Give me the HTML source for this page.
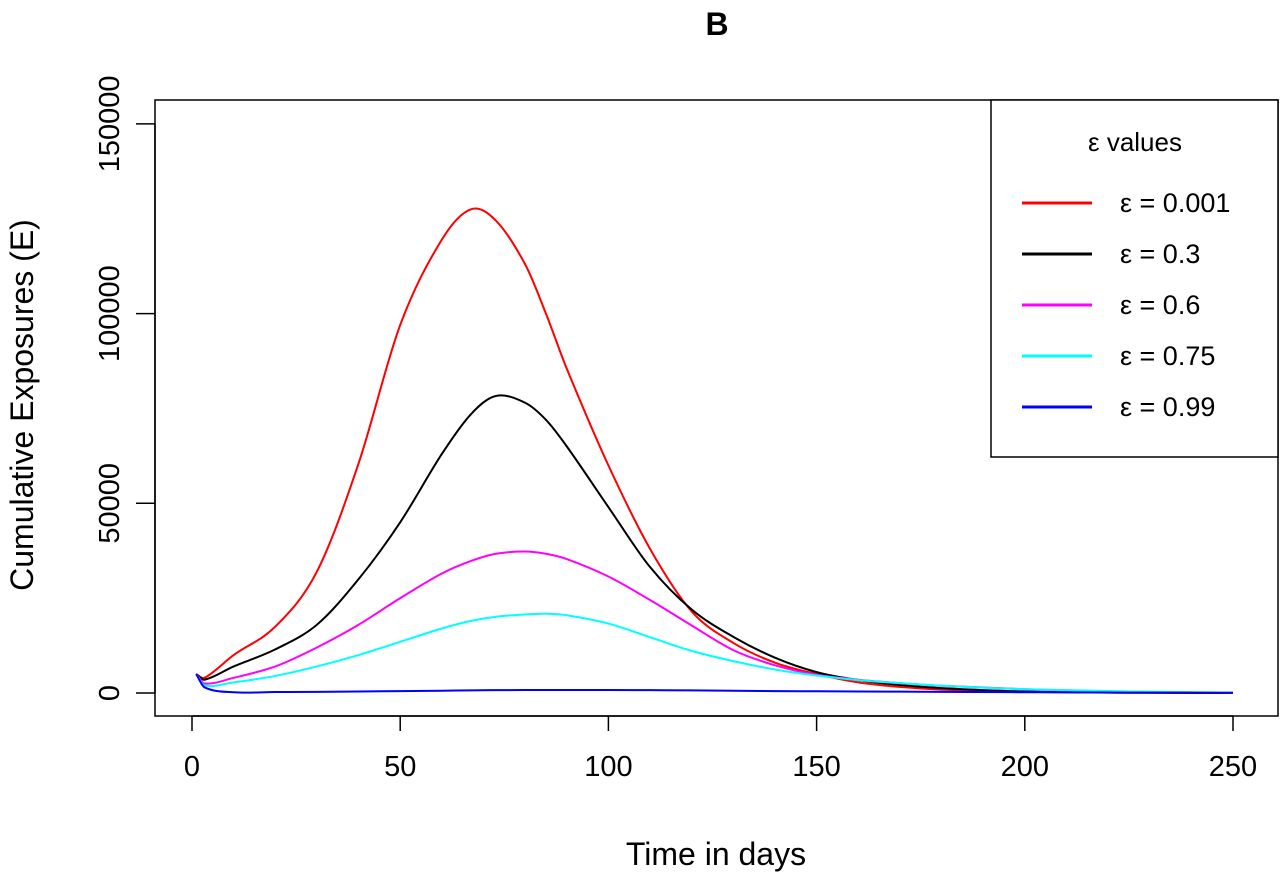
<!DOCTYPE html>
<html><head><meta charset="utf-8"><style>
body{margin:0;background:#fff}
svg{display:block;font-family:"Liberation Sans",sans-serif}
</style></head><body>
<svg id="chart" width="1286" height="878">
<text x="717" y="35" text-anchor="middle" font-size="32" font-weight="bold">B</text>
<rect x="155" y="100" width="1123" height="616" fill="none" stroke="#000" stroke-width="1.5"/>
<g id="axes"></g>
<g id="series"></g>
<text x="716" y="865" text-anchor="middle" font-size="32">Time in days</text>
<text transform="translate(33,405) rotate(-90)" text-anchor="middle" font-size="32">Cumulative Exposures (E)</text>
<g>
<rect x="991" y="100" width="287" height="357" fill="#fff" stroke="#000" stroke-width="1.5"/>
<text x="1135" y="151" text-anchor="middle" font-size="26">ε values</text>
<g id="legend-entries"></g>
</g>
</svg>
<script>
const xTicks=[0,50,100,150,200,250];
const yTicks=[0,50000,100000,150000];
const seriesNames=["ε = 0.001","ε = 0.3","ε = 0.6","ε = 0.75","ε = 0.99"];
const seriesColors=["#ff0000","#000000","#ff00ff","#00ffff","#0000ff"];
const days=[1,3,10,20,30,40,50,60,67,73,80,85,90,100,110,120,130,140,150,160,170,180,200,225,250];
const redVals=[5000,4000,10000,17500,32000,60500,97000,119500,127500,124500,113000,100000,85500,60000,38000,21500,13200,8000,5000,2800,1600,900,300,80,0];
const blackVals=[5000,3500,7000,11500,18000,30000,45000,63000,73500,78300,76500,72000,65000,49000,33200,22000,14800,9300,5500,3400,2100,1300,400,100,0];
const magentaVals=[5000,2500,4000,7000,12000,18000,25000,31500,34800,36700,37300,36700,35300,30700,24500,17800,11300,7300,4800,3500,2600,1900,1000,300,80];
const cyanVals=[5000,2000,2800,4500,7000,10000,13500,17000,19000,20100,20700,20900,20500,18300,14700,11100,8400,6200,4600,3400,2600,1900,1000,400,100];
const blueVals=[5000,1500,200,250,300,400,500,600,700,750,800,800,800,800,750,700,600,500,450,400,350,300,200,100,50];
const allVals=[redVals,blackVals,magentaVals,cyanVals,blueVals];
const NS="http://www.w3.org/2000/svg";
function xs(d){return 192+(d/50)*208.2;}
function ys(v){return 693-(v/50000)*189.7;}
const axes=document.getElementById('axes');
function mk(tag,attrs,parent){const e=document.createElementNS(NS,tag);for(const k in attrs)e.setAttribute(k,attrs[k]);parent.appendChild(e);return e;}
mk('line',{x1:xs(0),x2:xs(250),y1:716,y2:716,stroke:'#000','stroke-width':1.5},axes);
xTicks.forEach(t=>{
 const l=mk('line',{x1:xs(t),x2:xs(t),y1:716,y2:731,stroke:'#000','stroke-width':1.5},axes);
 
 
 const tx=mk('text',{x:xs(t),y:776,'text-anchor':'middle','font-size':29},axes);tx.textContent=t;
 
 
});
mk('line',{x1:155,x2:155,y1:ys(0),y2:ys(150000),stroke:'#000','stroke-width':1.5},axes);
yTicks.forEach(t=>{
 const l=mk('line',{x1:136,x2:155,y1:ys(t),y2:ys(t),stroke:'#000','stroke-width':1.5},axes);
 
 
 const tx=mk('text',{transform:`translate(119,${ys(t)}) rotate(-90)`,'text-anchor':'middle','font-size':29},axes);tx.textContent=t;
 
 
});
function pathD(vals){
 const p=days.map((d,i)=>[xs(d),ys(vals[i])]);
 const n=p.length,m=[];
 for(let i=0;i<n;i++){
  const a=p[Math.max(0,i-1)],b=p[Math.min(n-1,i+1)];
  m.push((b[1]-a[1])/(b[0]-a[0]));
 }
 let s=`M${p[0][0]},${p[0][1]}`;
 for(let i=0;i<n-1;i++){
  const dx=(p[i+1][0]-p[i][0])/3;
  s+=`C${p[i][0]+dx},${p[i][1]+m[i]*dx} ${p[i+1][0]-dx},${p[i+1][1]-m[i+1]*dx} ${p[i+1][0]},${p[i+1][1]}`;
 }
 return s;
}
const sg=document.getElementById('series');
const lg=document.getElementById('legend-entries');
allVals.forEach((vals,i)=>{
 const pth=mk('path',{d:pathD(vals),fill:'none',stroke:seriesColors[i],'stroke-width':2},sg);
 
 
 const y=203+i*51;
 const ll=mk('line',{x1:1022,x2:1092,y1:y,y2:y,stroke:seriesColors[i],'stroke-width':3},lg);
 
 
 const lt=mk('text',{x:1120,y:y+9,'font-size':27},lg);lt.textContent=seriesNames[i];
 
 
});
</script>
</body></html>
